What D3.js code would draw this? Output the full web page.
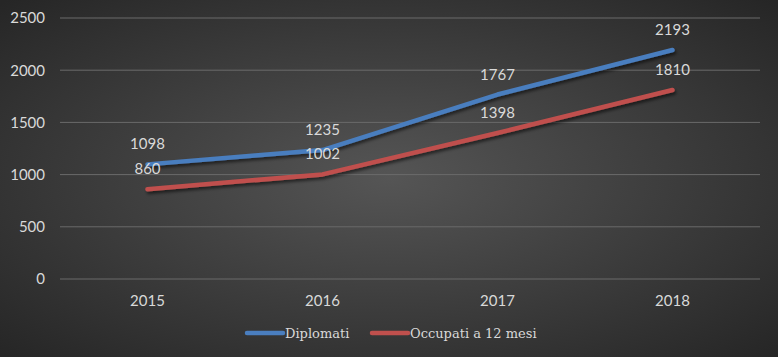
<!DOCTYPE html>
<html><head><meta charset="utf-8">
<script src="https://cdn.jsdelivr.net/npm/d3@7"></script>
<style>html,body{margin:0;padding:0;background:#333;}svg{display:block;}</style>
</head><body>
<script>
const categories = ["2015","2016","2017","2018"];
const diplomati = [1098, 1235, 1767, 2193];
const occupati = [860, 1002, 1398, 1810];
const yTicks = [0, 500, 1000, 1500, 2000, 2500];
const seriesNames = ["Diplomati", "Occupati a 12 mesi"];
const seriesColors = ["#4a7ebf", "#c0504d"];

const W = 778, H = 357;
const svg = d3.select("body").append("svg").attr("width", W).attr("height", H);
const defs = svg.append("defs");
const rg = defs.append("radialGradient").attr("id","bg").attr("cx","50%").attr("cy","50%").attr("r","70%");
rg.append("stop").attr("offset","0%").attr("stop-color","#555555");
rg.append("stop").attr("offset","100%").attr("stop-color","#262626");
const f = defs.append("filter").attr("id","sh").attr("x","-10%").attr("y","-10%").attr("width","120%").attr("height","140%");
f.append("feDropShadow").attr("dx",1.5).attr("dy",2.5).attr("stdDeviation",1.5).attr("flood-color","#000").attr("flood-opacity",0.55);

svg.append("rect").attr("width",W).attr("height",H).attr("fill","url(#bg)");

const x = d3.scaleBand().domain(categories).range([60, 760]);
const y = d3.scaleLinear().domain([0, 2500]).range([279, 18]);
const font = "Lato, 'Open Sans', sans-serif";
const fs = "15px";

const grid = svg.append("g");
grid.selectAll("line").data(yTicks).join("line")
  .attr("x1", 60).attr("x2", 760)
  .attr("y1", d => y(d)).attr("y2", d => y(d))
  .attr("stroke", "#6a6a6a").attr("stroke-width", 1);

const yAxis = svg.append("g").attr("transform","translate(50,0)")
  .call(d3.axisLeft(y).tickValues(yTicks).tickSize(0).tickPadding(5).tickFormat(d3.format("d")));
yAxis.select(".domain").remove();
yAxis.selectAll("text").attr("fill","#d9d9d9").style("font-size",fs).style("font-family",font);

const xAxis = svg.append("g").attr("transform","translate(0,0)")
  .call(d3.axisBottom(x).tickSize(0).tickPadding(0));
xAxis.select(".domain").remove();
xAxis.selectAll("text").attr("y", 305.5).attr("dy", null).attr("fill","#d9d9d9").style("font-size",fs).style("font-family",font);

const cx = d => x(d) + x.bandwidth()/2;
const line = d3.line().x((d,i) => cx(categories[i])).y(d => y(d));
[diplomati, occupati].forEach((vals, si) => {
  svg.append("path").datum(vals).attr("d", line)
    .attr("fill","none").attr("stroke", seriesColors[si]).attr("stroke-width", 4.5)
    .attr("stroke-linecap","round").attr("stroke-linejoin","round").attr("filter","url(#sh)");
});
[diplomati, occupati].forEach((vals, si) => {
  svg.append("g").selectAll("text").data(vals).join("text")
    .attr("x", (d,i) => cx(categories[i]))
    .attr("y", d => y(d) - 15)
    .attr("text-anchor","middle")
    .attr("fill","#d9d9d9").style("font-size",fs).style("font-family",font)
    .text(d => d);
});

// legend
const legX = [247, 372];
const lg = svg.append("g");
seriesNames.forEach((n, i) => {
  lg.append("line").attr("x1", legX[i]).attr("x2", legX[i] + 36)
    .attr("y1", 333).attr("y2", 333)
    .attr("stroke", seriesColors[i]).attr("stroke-width", 4.5).attr("stroke-linecap","round");
  lg.append("text").attr("x", legX[i] + 38).attr("y", 338)
    .attr("fill","#d9d9d9").style("font-size","13px").style("font-family","'DejaVu Serif', 'Liberation Serif', serif")
    .text(n);
});
</script>
</body></html>
